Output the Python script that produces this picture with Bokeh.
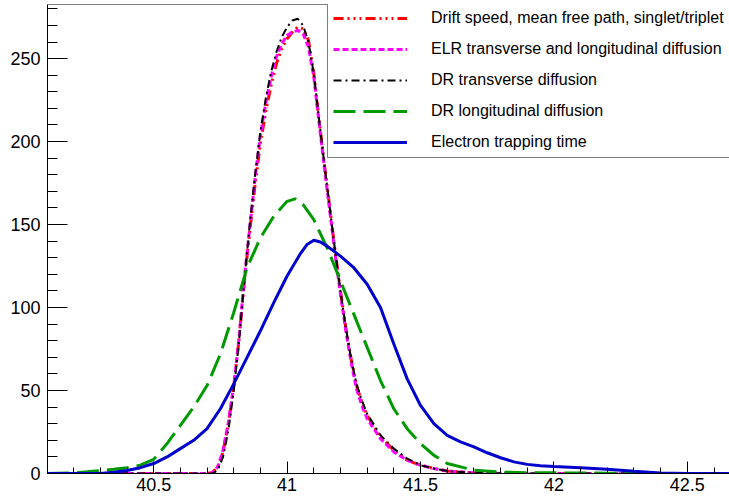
import numpy as np
from bokeh.plotting import figure
from bokeh.models import Legend, LegendItem, FixedTicker, SingleIntervalTicker, Range1d, Span
from bokeh.embed import file_html
from bokeh.resources import INLINE

# ---- data ----
x_narrow = [40.10, 40.70, 40.72, 40.74, 40.76, 40.78, 40.80, 40.82, 40.84, 40.86, 40.88,
            40.90, 40.92, 40.94, 40.96, 40.98, 41.00, 41.02, 41.04, 41.06, 41.08, 41.10,
            41.12, 41.14, 41.16, 41.18, 41.20, 41.22, 41.24, 41.26, 41.28, 41.30, 41.35,
            41.40, 41.45, 41.50, 41.55, 41.60, 41.70, 41.80, 42.66]
y_drift = [0, 0, 0.5, 4, 13, 30, 52, 81, 116, 146, 174,
           199, 218, 234, 247, 256, 262, 266, 269, 268, 261, 241,
           213, 186, 160, 134, 110, 88, 69, 53, 43, 35, 22,
           14, 8, 5, 3, 1.5, 0.4, 0, 0]
y_elr = [0, 0, 0.5, 4, 14, 31, 53, 82, 118, 148, 178,
         204, 223, 239, 251, 259, 264, 266, 267, 265, 257, 239,
         211, 184, 158, 132, 108, 86, 67, 51, 41, 33, 21,
         13, 8, 5, 3, 1.5, 0.4, 0, 0]
y_drt = [0, 0, 0, 2, 10, 26, 50, 80, 117, 150, 180,
         206, 226, 242, 254, 263, 269, 273, 274, 270, 260, 241,
         213, 186, 160, 134, 110, 88, 69, 54, 44, 36, 23,
         15, 9, 5, 3, 1.5, 0.4, 0, 0]

x_drl = [40.10, 40.20, 40.25, 40.30, 40.35, 40.40, 40.45, 40.50, 40.55, 40.60, 40.65,
         40.70, 40.75, 40.80, 40.85, 40.90, 40.95, 41.00, 41.03, 41.06, 41.10, 41.15,
         41.20, 41.25, 41.30, 41.35, 41.40, 41.45, 41.50, 41.55, 41.60, 41.70, 41.80,
         41.90, 42.00, 42.10, 42.20, 42.30, 42.40, 42.66]
y_drl = [0, 0.3, 1, 1.8, 2.5, 3.5, 5, 8.5, 18, 29, 40,
         53, 72, 97, 124, 142, 155, 164, 165.5, 162, 153, 136,
         116, 96, 76, 56, 39, 27, 18, 11, 6, 2, 0.8,
         0.5, 0.4, 0.3, 0.2, 0.1, 0, 0]

x_trap = [40.10, 40.30, 40.35, 40.40, 40.45, 40.50, 40.55, 40.60, 40.65, 40.70, 40.75,
          40.80, 40.85, 40.90, 40.95, 41.00, 41.05, 41.075, 41.10, 41.125, 41.15, 41.20,
          41.25, 41.30, 41.35, 41.40, 41.45, 41.50, 41.55, 41.60, 41.65, 41.70, 41.75,
          41.80, 41.85, 41.90, 41.95, 42.00, 42.10, 42.20, 42.30, 42.40, 42.50, 42.66]
y_trap = [0, 0, 0.8, 1.8, 3.5, 6, 10, 15, 20, 27, 39,
          54, 70, 86, 103, 119, 132.5, 138, 140.5, 139.5, 137, 131,
          124, 114, 100, 78, 57, 41, 30, 23, 19, 16, 12.5,
          9.5, 7, 5.5, 4.7, 4.2, 3.5, 2.6, 1.3, 0.3, 0, 0]

labels = ["Drift speed, mean free path, singlet/triplet",
          "ELR transverse and longitudinal diffusion",
          "DR transverse diffusion",
          "DR longitudinal diffusion",
          "Electron trapping time"]

x_ticks = [40.5, 41, 41.5, 42, 42.5]
x_tick_labels = ["40.5", "41", "41.5", "42", "42.5"]

FONT = "Liberation Sans"
Y_TOP = 282.6

p = figure(width=729, height=499, output_backend="svg", toolbar_location=None,
           x_range=Range1d(40.102, 42.658), y_range=Range1d(0, Y_TOP),
           min_border_left=47, min_border_right=0, min_border_top=4, min_border_bottom=26)
p.xgrid.visible = False
p.ygrid.visible = False
p.outline_line_color = None
p.background_fill_color = "white"
p.border_fill_color = "white"
# top frame border (the right border lies outside the picture)
p.add_layout(Span(location=Y_TOP, dimension="width", line_color="black", line_width=1))

r_drift = p.line(x_narrow, y_drift, line_color="#ff0000", line_width=3, line_dash="10 4 2 4 2 4 2 4")
r_elr = p.line(x_narrow, y_elr, line_color="#ff00ff", line_width=3, line_dash="6 3")
r_drt = p.line(x_narrow, y_drt, line_color="black", line_width=2, line_dash="8 4 2 4")
r_drl = p.line(x_drl, y_drl, line_color="#009900", line_width=3, line_dash="22 8")
r_trap = p.line(x_trap, y_trap, line_color="#0000cc", line_width=3)

# axes
minor = [round(v, 1) for v in np.arange(40.2, 42.7, 0.1)]
p.xaxis.ticker = FixedTicker(ticks=x_ticks, minor_ticks=minor)
p.xaxis.major_label_overrides = dict(zip(x_ticks, x_tick_labels))
p.yaxis.ticker = SingleIntervalTicker(interval=50, num_minor_ticks=5)
for ax, tin, mtin in ((p.xaxis, 12, 6), (p.yaxis, 20, 10)):
    ax.major_tick_in = tin
    ax.major_tick_out = 0
    ax.minor_tick_in = mtin
    ax.minor_tick_out = 0
    ax.major_tick_line_color = "black"
    ax.minor_tick_line_color = "black"
    ax.axis_line_color = "black"
    ax.major_label_text_font = FONT
    ax.major_label_text_font_size = "18px"
    ax.major_label_text_color = "black"
p.xaxis.major_label_standoff = 4
p.yaxis.major_label_standoff = 7

legend = Legend(items=[LegendItem(label=l, renderers=[r]) for l, r in
                       zip(labels, [r_drift, r_elr, r_drt, r_drl, r_trap])],
                location=(280, 315), orientation="vertical",
                glyph_width=74, glyph_height=20, label_standoff=24, spacing=11,
                label_width=320, padding=5, margin=0,
                border_line_color="black", border_line_width=1,
                background_fill_color="white", background_fill_alpha=1.0,
                label_text_font=FONT, label_text_font_size="16px", label_text_color="black")
p.add_layout(legend, "center")

open("out.html", "w").write(file_html(p, INLINE))
